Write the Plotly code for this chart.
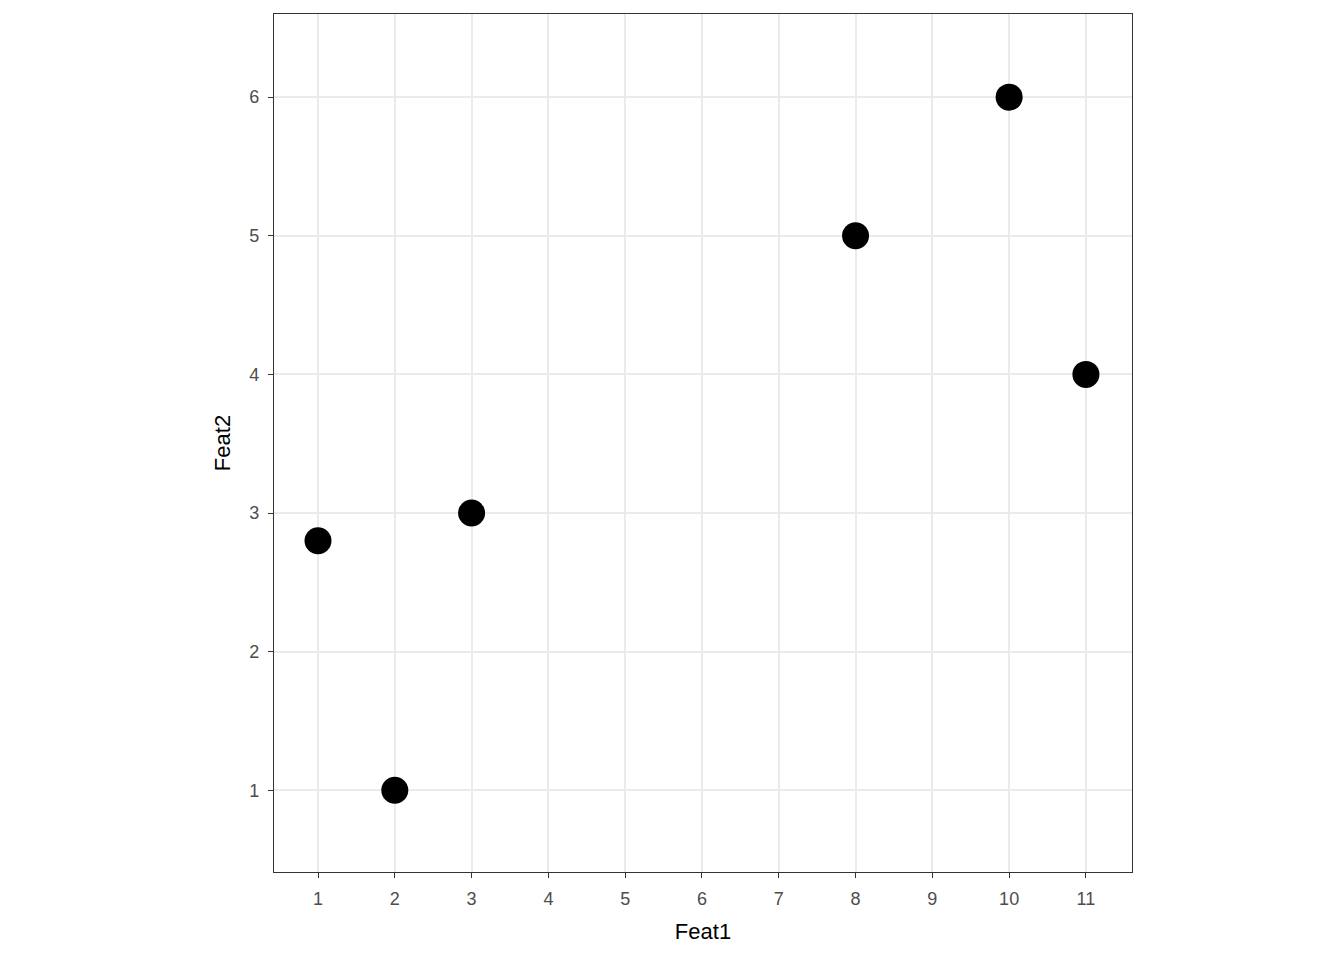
import plotly.graph_objects as go

feat1 = [1, 2, 3, 8, 10, 11]
feat2 = [2.8, 1, 3, 5, 6, 4]
x_ticks = list(range(1, 12))
y_ticks = list(range(1, 7))

fig = go.Figure(go.Scatter(
    x=feat1, y=feat2, mode="markers",
    marker=dict(color="black", size=27, line=dict(width=0)),
    showlegend=False,
))

axis_common = dict(
    showgrid=True, gridcolor="#EBEBEB", gridwidth=1.5,
    zeroline=False,
    showline=True, linecolor="#333333", linewidth=1.3, mirror=True,
    ticks="outside", ticklen=5, tickwidth=1.4, tickcolor="#333333",
    ticklabelstandoff=5,
    tickfont=dict(family="Liberation Sans, Arial, sans-serif", size=18, color="#4D4D4D"),
    title_font=dict(family="Liberation Sans, Arial, sans-serif", size=22, color="black"),
)

fig.update_layout(
    width=1344, height=960,
    margin=dict(l=266, r=220, t=6, b=96),
    plot_bgcolor="white", paper_bgcolor="white",
    xaxis=dict(range=[0.427, 11.6], tickvals=x_ticks, title=dict(text="Feat1", standoff=15), **axis_common),
    yaxis=dict(range=[0.41, 6.6], tickvals=y_ticks, title=dict(text="Feat2", standoff=12), **axis_common),
)

fig.write_html("out.html")
